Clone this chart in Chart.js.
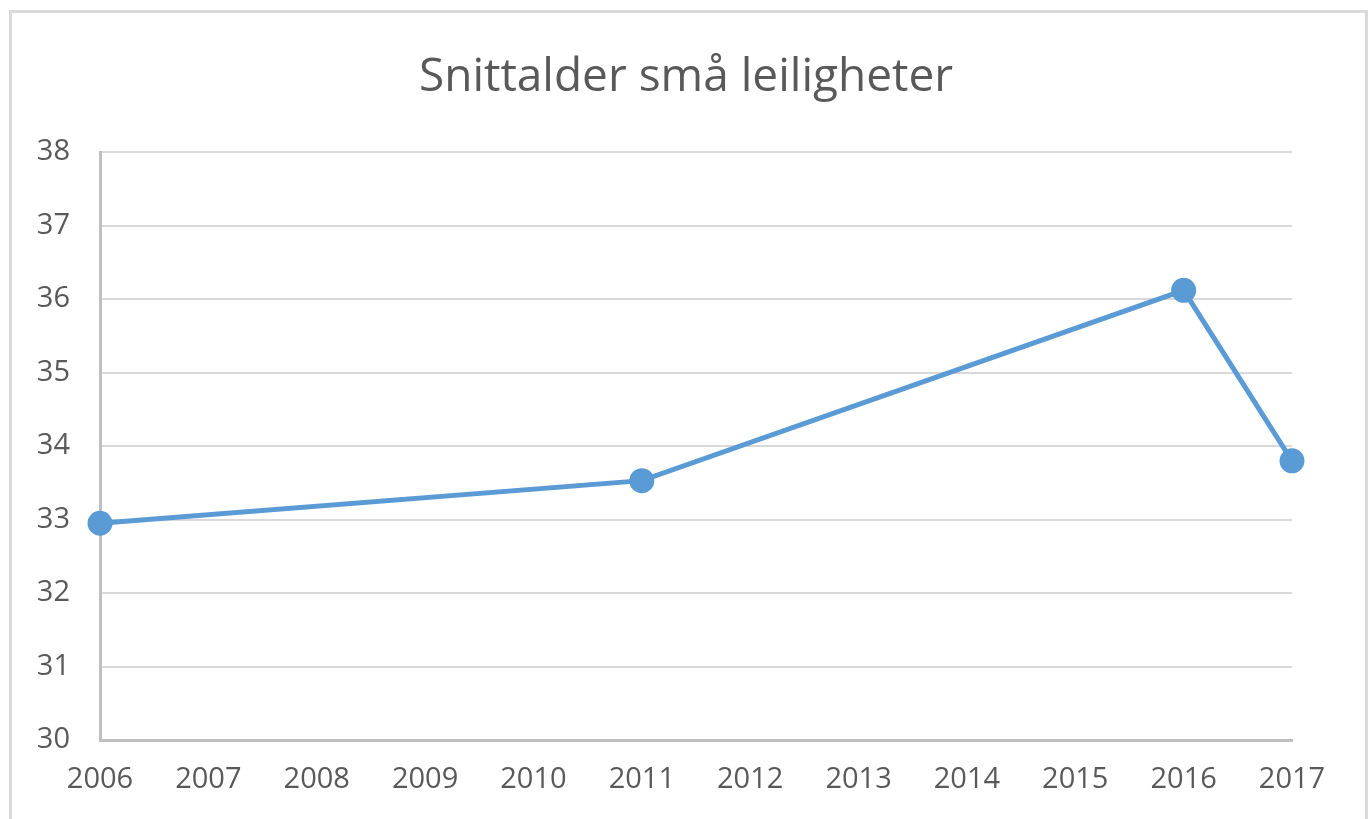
<!DOCTYPE html>
<html>
<head>
<meta charset="utf-8">
<script src="https://cdn.jsdelivr.net/npm/chart.js@4"></script>
<style>
    html, body { margin: 0; padding: 0; background: #fff; overflow: hidden; }
    #frame {
        position: absolute; left: 9px; top: 10px; width: 1359px; height: 900px;
        box-sizing: border-box; border: 3px solid #d9d9d9;
    }
    #wrap { position: absolute; left: 0; top: 0; width: 1372px; height: 819px; }
</style>
</head>
<body>
<div id="frame"></div>
<div id="wrap"><canvas id="myChart"></canvas></div>
<script>
const years = ['2006', '2007', '2008', '2009', '2010', '2011', '2012', '2013', '2014', '2015', '2016', '2017'];
// only 2006, 2011, 2016 and 2017 have values
const avgAge = [32.95, null, null, null, null, 33.53, null, null, null, null, 36.12, 33.80];
const yMin = 30;
const yMax = 38;

const textColor = '#595959';
const fontFamily = "'Open Sans', sans-serif";

const ctx = document.getElementById('myChart').getContext('2d');
const myChart = new Chart(ctx, {
    type: 'line',
    data: {
        labels: years,
        datasets: [{
            label: 'Snittalder',
            data: avgAge,
            spanGaps: true,
            borderColor: '#5b9bd5',
            backgroundColor: '#5b9bd5',
            borderWidth: 5,
            pointRadius: 10,
            pointHoverRadius: 10,
            tension: 0
        }]
    },
    options: {
        responsive: true,
        maintainAspectRatio: false,
        animation: false,
        layout: {
            padding: 0
        },
        plugins: {
            legend: { display: false },
            tooltip: { enabled: false },
            title: {
                display: true,
                text: 'Snittalder små leiligheter',
                color: textColor,
                font: { family: fontFamily, size: 46, weight: 'normal' },
                padding: { top: 50, bottom: 47 }
            }
        },
        scales: {
            x: {
                offset: false,
                grid: { display: false, drawTicks: false },
                border: { display: true, color: '#bfbfbf', width: 3 },
                ticks: {
                    color: textColor,
                    font: { family: fontFamily, size: 29 },
                    padding: 22,
                    maxRotation: 0,
                    autoSkip: false
                },
                afterFit: scale => { scale.height = 79; }
            },
            y: {
                min: yMin,
                max: yMax,
                grid: { color: '#d9d9d9', lineWidth: 2, drawTicks: false },
                border: { display: true, color: '#bfbfbf', width: 3 },
                ticks: {
                    stepSize: 1,
                    color: textColor,
                    font: { family: fontFamily, size: 29 },
                    padding: 30
                },
                afterFit: scale => { scale.width = 100; }
            },
            // empty right-hand spacer so the plot ends where the reference does
            yRight: {
                position: 'right',
                min: yMin,
                max: yMax,
                grid: { display: false, drawTicks: false },
                border: { display: false },
                ticks: { display: false },
                afterFit: scale => { scale.width = 80; }
            }
        }
    }
});
</script>
</body>
</html>
